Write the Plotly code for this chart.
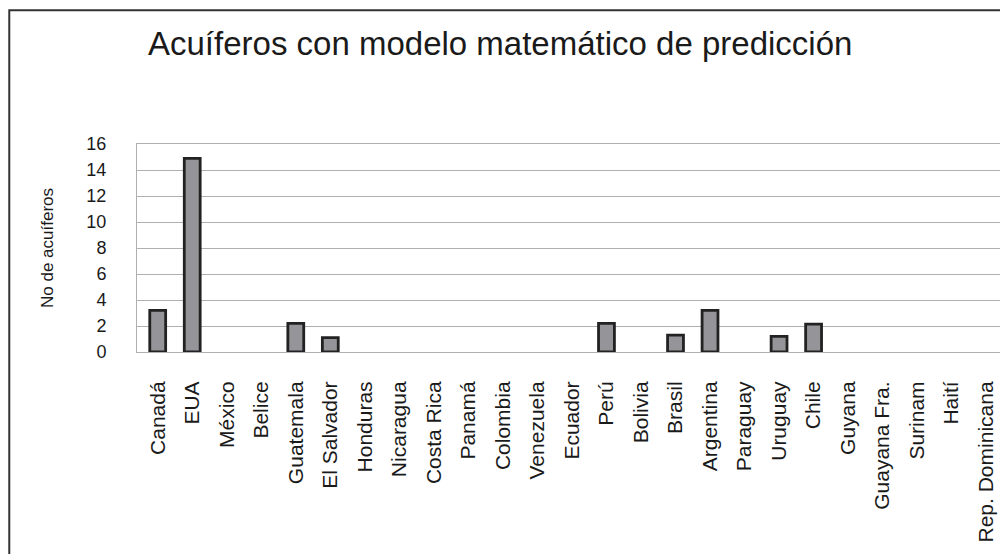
import plotly.graph_objects as go

countries = ["Canadá", "EUA", "México", "Belice", "Guatemala", "El Salvador", "Honduras",
             "Nicaragua", "Costa Rica", "Panamá", "Colombia", "Venezuela", "Ecuador", "Perú",
             "Bolivia", "Brasil", "Argentina", "Paraguay", "Uruguay", "Chile", "Guyana",
             "Guayana Fra.", "Surinam", "Haití", "Rep. Dominicana"]
acuiferos = [3.2, 14.9, 0, 0, 2.2, 1.1, 0, 0, 0, 0, 0, 0, 0, 2.2, 0, 1.3, 3.2, 0, 1.2, 2.15,
             0, 0, 0, 0, 0]
y_ticks = [0, 2, 4, 6, 8, 10, 12, 14, 16]

FONT = "Liberation Sans, Arial, sans-serif"
W, H = 1000, 546  # page body has an 8px margin

# only draw bars with non-zero values (empty categories keep their slots)
vals = [v if v > 0 else None for v in acuiferos]

fig = go.Figure(go.Bar(
    x=countries, y=vals,
    width=0.46,
    marker=dict(color="#959599", line=dict(color="#222222", width=2.8)),
))

fig.update_layout(
    width=W, height=H,
    margin=dict(l=129, r=8, t=136, b=202),
    paper_bgcolor="white", plot_bgcolor="white",
    showlegend=False,
    font=dict(family=FONT, color="#1a1a1a"),
    title=dict(text="Acuíferos con modelo matemático de predicción",
               x=140 / W, xanchor="left", y=1 - 35 / H, yanchor="middle",
               font=dict(size=33, family=FONT, color="#1a1a1a")),
)

fig.update_xaxes(
    type="category", range=[-0.6, 24.4], tickangle=-90, ticks="", ticklabelstandoff=20,
    tickfont=dict(size=21, family=FONT, color="#1a1a1a"),
    showline=True, linecolor="#b0b0b0", linewidth=1, mirror=True,
    showgrid=False,
)
fig.update_yaxes(
    range=[0, 16], tickvals=y_ticks, ticktext=[str(t) for t in y_ticks],
    ticks="", ticklabelstandoff=26,
    tickfont=dict(size=18, family=FONT, color="#1a1a1a"),
    showgrid=True, gridcolor="#b0b0b0", gridwidth=1,
    showline=True, linecolor="#b0b0b0", linewidth=1, mirror=True,
    zeroline=False,
    title=dict(text="No de acuíferos", font=dict(size=17, family=FONT, color="#1a1a1a"),
               standoff=28),
)

# outer frame of the figure (extends past right and bottom edge as in the reference)
fig.add_shape(type="rect", xref="paper", yref="paper",
              x0=-0.148, x1=1.05, y0=-1.2, y1=1.643,
              line=dict(color="#333333", width=2), layer="below")

fig.write_html("out.html")
